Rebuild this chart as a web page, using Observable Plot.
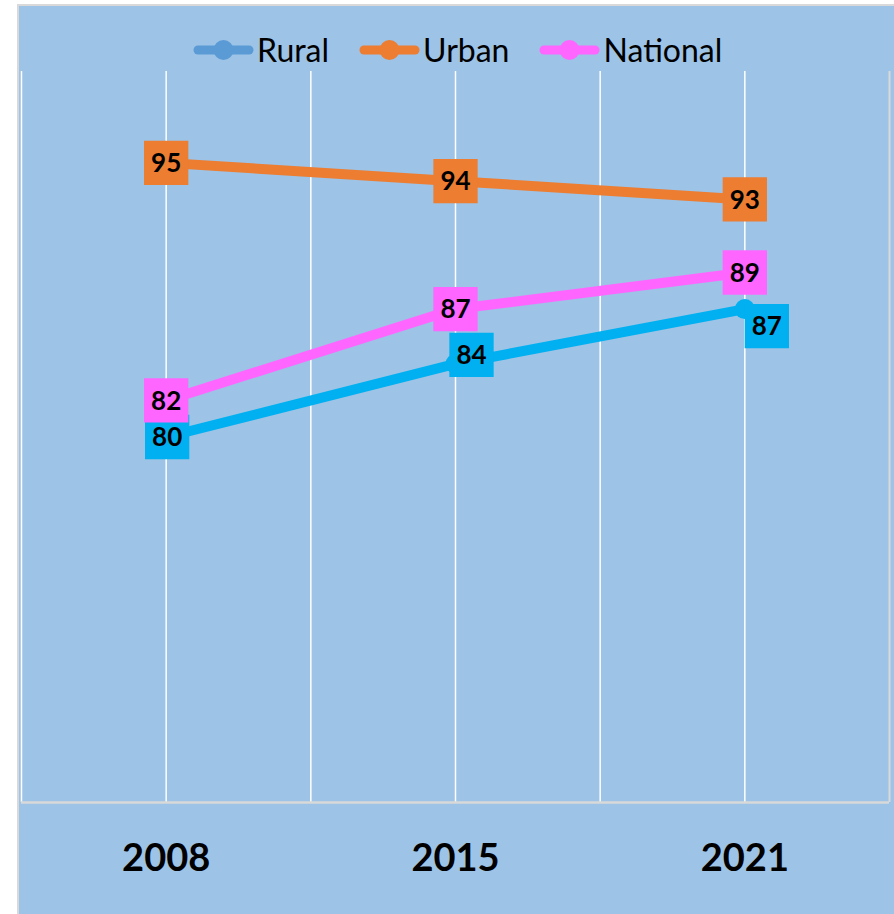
<!DOCTYPE html>
<html>
<head>
<meta charset="utf-8">
<script src="https://cdn.jsdelivr.net/npm/d3@7"></script>
<script src="https://cdn.jsdelivr.net/npm/@observablehq/plot@0.6"></script>
<style>
  html, body { margin: 0; padding: 0; background: #ffffff; overflow: hidden; }
  body { width: 894px; height: 914px; position: relative; font-family: Lato, "Open Sans", sans-serif; }
  #frame { position: absolute; left: 17px; top: 4px; width: 900px; height: 920px;
           background: #9DC3E6; border-left: 2px solid #D9D9D9; border-top: 2px solid #D9D9D9; box-sizing: border-box; }
  #legend { position: absolute; left: 193px; top: 30px; height: 40px; display: flex; align-items: center; }
  .item { display: flex; align-items: center; margin-right: 30px; }
  .item span { font-size: 32px; color: #000; margin-left: 3px; line-height: 40px; }
  #chart { position: absolute; left: 0; top: 71px; }
</style>
</head>
<body>
<div id="frame"></div>
<div id="legend"></div>
<div id="chart"></div>
<script>
const years = ["2008", "2015", "2021"];
const seriesNames = ["Rural", "Urban", "National"];
const rural = [80, 84, 87];
const urban = [95, 94, 93];
const national = [82, 87, 89];
const lineColors = ["#00B0F0", "#ED7D31", "#FF66FF"];
const legendColors = ["#5B9BD5", "#ED7D31", "#FF66FF"];

const valuesBySeries = {Rural: rural, Urban: urban, National: national};
const rows = seriesNames.flatMap(s => valuesBySeries[s].map((v, i) => ({series: s, i, year: years[i], value: v})));

// Legend (HTML above the SVG)
const legend = document.getElementById("legend");
seriesNames.forEach((s, k) => {
  const item = document.createElement("div");
  item.className = "item";
  const ns = "http://www.w3.org/2000/svg";
  const svg = document.createElementNS(ns, "svg");
  svg.setAttribute("width", 61); svg.setAttribute("height", 24);
  const ln = document.createElementNS(ns, "line");
  ln.setAttribute("x1", 5); ln.setAttribute("x2", 56); ln.setAttribute("y1", 12); ln.setAttribute("y2", 12);
  ln.setAttribute("stroke", legendColors[k]); ln.setAttribute("stroke-width", 9); ln.setAttribute("stroke-linecap", "round");
  const c = document.createElementNS(ns, "circle");
  c.setAttribute("cx", 30.5); c.setAttribute("cy", 12); c.setAttribute("r", 10); c.setAttribute("fill", legendColors[k]);
  svg.appendChild(ln); svg.appendChild(c);
  const t = document.createElement("span");
  t.textContent = s;
  item.appendChild(svg); item.appendChild(t);
  legend.appendChild(item);
});

const color = {domain: seriesNames, range: lineColors};
const labelMarks = (filter, dx, dy) => [
  Plot.dot(rows, {filter, x: "i", y: "value", symbol: "square", r: 25, fill: "series", dx, dy}),
  Plot.text(rows, {filter, x: "i", y: "value", text: d => String(d.value), fill: "black",
                   fontSize: 26, fontWeight: "bold", dx, dy: dy + 1})
];

const chart = Plot.plot({
  width: 894,
  height: 843,
  marginTop: 0,
  marginBottom: 112,
  marginLeft: 21,
  marginRight: 5,
  style: {background: "transparent", fontFamily: "Lato, 'Open Sans', sans-serif", color: "black"},
  x: {type: "linear", domain: [-0.5, 2.5]},
  y: {domain: [60, 100], axis: null},
  color,
  marks: [
    Plot.ruleX(d3.range(-0.5, 2.5, 0.5), {stroke: "#FFFFFF", strokeWidth: 1.5}),
    Plot.ruleX([2.5], {stroke: "#D9D9D9", strokeWidth: 2}),
    Plot.ruleY([60], {stroke: "#D9D9D9", strokeWidth: 2.5}),
    Plot.axisX({ticks: [0, 1, 2], tickFormat: i => years[i], tickSize: 0, tickPadding: 42,
                fontSize: 38, fontWeight: "bold", fill: "black", label: null}),
    Plot.line(rows, {x: "i", y: "value", z: "series", stroke: "series", strokeWidth: 10,
                     strokeLinecap: "round", strokeLinejoin: "round"}),
    Plot.dot(rows, {x: "i", y: "value", r: 10, fill: "series"}),
    ...labelMarks(d => d.series === "Rural" && d.i === 0, 1, 0),
    ...labelMarks(d => d.series === "Rural" && d.i === 1, 16, -9),
    ...labelMarks(d => d.series === "Rural" && d.i === 2, 22, 17),
    ...labelMarks(d => d.series === "Urban", 0, 0),
    ...labelMarks(d => d.series === "National", 0, 0)
  ]
});
document.getElementById("chart").appendChild(chart);
</script>
</body>
</html>
